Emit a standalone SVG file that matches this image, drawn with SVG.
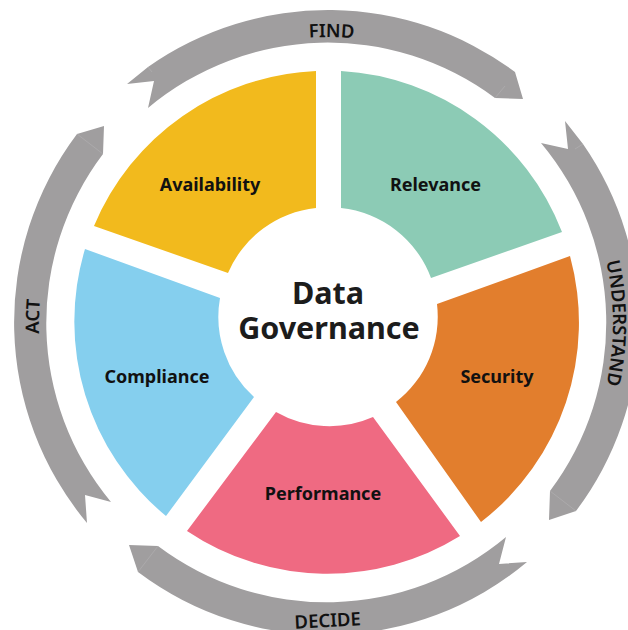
<svg xmlns="http://www.w3.org/2000/svg" width="628" height="630" viewBox="0 0 628 630">
<style>
.arrow{fill:#a09e9f}
.seam{fill:none;stroke:#b4b2b3;stroke-width:.6}
.lbl{font-family:"Noto Sans","Open Sans",sans-serif;font-weight:700;fill:#111}
.seg{font-size:18px;text-anchor:middle}
.phase{font-size:18.500px;text-anchor:middle;font-weight:600}
.title{font-size:30.500px;text-anchor:middle;fill:#1c1c1c;font-weight:700}
</style>
<defs>
<path id="pFind" d="M41 323A286 286 0 0 1 613 323"/>
<path id="pUnder" d="M327 37A286 286 0 0 1 327 609"/>
<path id="pAct" d="M327 611A288 288 0 0 1 327 35"/>
</defs>
<rect width="628" height="630" fill="#fff"/>
<g id="connectors">
<path id="arrow-find" class="arrow" d="M127 84L148 67A313 313 0 0 1 515 72L523 99L495 98A280 280 0 0 0 148 108L154 81Z"/>
<path id="arrow-understand" class="arrow" d="M565 121L583 144A313 313 0 0 1 576 511L549 520L550 491A280 280 0 0 0 541 143L568 149Z"/>
<path id="arrow-decide" class="arrow" d="M527 562A313 313 0 0 1 138 572L129 545L158 546A280 280 0 0 0 506 537L499 564Z"/>
<path id="arrow-act" class="arrow" d="M87 523A313 313 0 0 1 77 134L104 126L103 154A280 280 0 0 0 111 502L85 495Z"/>
<path class="seam" d="M148 67L152 72M495 98L505 86M583 144L575 149M550 491L576 511M158 546L138 572M77 134L103 154"/>
</g>
<g id="node-availability"><path fill="#f2ba1d" d="M316 71A252 252 0 0 0 94 226L228 273A108 108 0 0 1 316 208Z"/><text class="lbl seg" x="210" y="191">Availability</text></g>
<g id="node-relevance"><path fill="#8ccbb5" d="M341 71A252 252 0 0 1 562 232L431 278A108 108 0 0 0 341 208Z"/><text class="lbl seg" x="435.500" y="191">Relevance</text></g>
<g id="node-security"><path fill="#e27e2d" d="M570 256A252 252 0 0 1 481 522L396 402A108 108 0 0 0 437 304Z"/><text class="lbl seg" x="497" y="383">Security</text></g>
<g id="node-performance"><path fill="#ef6a82" d="M460 536A252 252 0 0 1 187 531L276 412A108 108 0 0 0 373 417Z"/><text class="lbl seg" x="323" y="500">Performance</text></g>
<g id="node-compliance"><path fill="#85cfee" d="M166 516A252 252 0 0 1 85 249L220 298A108 108 0 0 0 254 397Z"/><text class="lbl seg" x="157" y="383">Compliance</text></g>
<g id="node-center"><text class="lbl title" x="328" y="304">Data</text><text class="lbl title" x="329" y="339">Governance</text></g>
<g id="labels">
<text class="lbl phase"><textPath href="#pFind" startOffset="50%"><tspan dx="4.500">FIND</tspan></textPath></text>
<text class="lbl phase"><textPath href="#pUnder" startOffset="50%">UNDERSTAND</textPath></text>
<text class="lbl phase" transform="translate(328 627) rotate(-3)">DECIDE</text>
<text class="lbl phase"><textPath href="#pAct" startOffset="50%"><tspan dx="6.500">ACT</tspan></textPath></text>
</g>
</svg>
